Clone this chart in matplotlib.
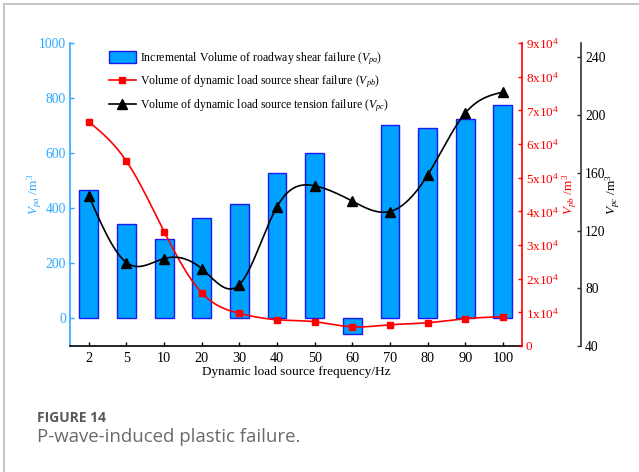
import numpy as np
import matplotlib
matplotlib.use('Agg')
import matplotlib.pyplot as plt
from matplotlib.ticker import FixedLocator, FuncFormatter
from matplotlib.patches import Patch
from matplotlib.lines import Line2D

# ---------------- data ----------------
freq_labels = ['2', '5', '10', '20', '30', '40', '50', '60', '70', '80', '90', '100']
v_pa = [465, 344, 289, 363, 417, 527, 600, -57, 702, 691, 723, 775]          # m^3 (bars, left axis)
v_pb = [6.66e4, 5.49e4, 3.40e4, 1.58e4, 0.97e4, 0.78e4, 0.72e4, 0.57e4,
        0.63e4, 0.69e4, 0.81e4, 0.87e4]                                       # m^3 (red, right axis)
v_pc = [144, 97.8, 100.6, 93.6, 82.5, 136.6, 151, 140.4, 133.2, 158.4, 201.4, 216]  # m^3 (black, far right)

plt.rcParams['font.family'] = ['Liberation Serif', 'DejaVu Serif']
plt.rcParams['mathtext.fontset'] = 'custom'
plt.rcParams['mathtext.rm'] = 'Liberation Serif'
plt.rcParams['mathtext.it'] = 'Liberation Serif:italic'
plt.rcParams['mathtext.bf'] = 'Liberation Serif:bold'

BLUE_AX = '#2AA8FF'
BAR_FILL = '#00A2FF'
BAR_EDGE = '#1A1AEE'
RED = '#FF0000'
DARK = '#333333'


def natural_spline(x, y, xs):
    x = np.asarray(x, float)
    y = np.asarray(y, float)
    n = len(x)
    h = np.diff(x)
    A = np.zeros((n, n))
    b = np.zeros(n)
    A[0, 0] = 1
    A[-1, -1] = 1
    for i in range(1, n - 1):
        A[i, i - 1] = h[i - 1]
        A[i, i] = 2 * (h[i - 1] + h[i])
        A[i, i + 1] = h[i]
        b[i] = 6 * ((y[i + 1] - y[i]) / h[i] - (y[i] - y[i - 1]) / h[i - 1])
    M = np.linalg.solve(A, b)
    out = np.empty_like(xs)
    for k, xv in enumerate(xs):
        i = min(max(np.searchsorted(x, xv) - 1, 0), n - 2)
        t1 = x[i + 1] - xv
        t0 = xv - x[i]
        out[k] = (M[i] * t1 ** 3 / (6 * h[i]) + M[i + 1] * t0 ** 3 / (6 * h[i])
                  + (y[i] / h[i] - M[i] * h[i] / 6) * t1
                  + (y[i + 1] / h[i] - M[i + 1] * h[i] / 6) * t0)
    return out


W, H = 639, 472
fig = plt.figure(figsize=(W / 100, H / 100), dpi=100)
L, R, T, B = 70, 521.7, 43, 346
ax1 = fig.add_axes([L / W, 1 - B / H, (R - L) / W, (B - T) / H])
ax2 = ax1.twinx()
ax3 = ax1.twinx()

pos = np.arange(len(freq_labels))
xs = np.linspace(0, len(freq_labels) - 1, 400)

# bars
ax1.bar(pos, v_pa, width=0.5, color=BAR_FILL, edgecolor=BAR_EDGE, linewidth=1.0, zorder=2)
ax1.set_xlim(-0.5, len(freq_labels) - 0.5)
ax1.set_ylim(-100, 1000)
ax1.yaxis.set_major_locator(FixedLocator([0, 200, 400, 600, 800, 1000]))
ax1.set_xticks(pos)
ax1.set_xticklabels(freq_labels)

# red
ax2.plot(xs, natural_spline(pos, v_pb, xs), color=RED, lw=1.2, zorder=3)
ax2.plot(pos, v_pb, linestyle='none', marker='s', ms=4.3, color=RED, zorder=4)
ax2.set_ylim(0, 90000)
ax2.yaxis.set_major_locator(FixedLocator(np.arange(0, 90001, 10000)))
ax2.yaxis.set_major_formatter(FuncFormatter(
    lambda v, p: '0' if v == 0 else r'$%d\mathrm{x}10^{4}$' % round(v / 1e4)))

# black
ax3.plot(xs, natural_spline(pos, v_pc, xs), color='black', lw=1.2, zorder=3)
ax3.plot(pos, v_pc, linestyle='none', marker='^', ms=7.5, color='black', zorder=4)
ax3.set_ylim(40, 250)
ax3.yaxis.set_major_locator(FixedLocator([40, 80, 120, 160, 200, 240]))
ax3.spines['right'].set_position(('axes', (581 - L) / (R - L)))

# spines
for a in (ax1, ax2, ax3):
    a.spines['top'].set_visible(False)
ax1.spines['right'].set_visible(False)
ax2.spines['left'].set_visible(False)
ax3.spines['left'].set_visible(False)
ax2.spines['bottom'].set_visible(False)
ax3.spines['bottom'].set_visible(False)
ax1.spines['left'].set_color(BLUE_AX)
ax1.spines['left'].set_linewidth(1.2)
ax1.spines['bottom'].set_color('black')
ax1.spines['bottom'].set_linewidth(1.2)
ax2.spines['right'].set_color(RED)
ax2.spines['right'].set_linewidth(1.2)
ax3.spines['right'].set_color(DARK)
ax3.spines['right'].set_linewidth(1.2)

fs = 9.8
ax1.tick_params(axis='y', direction='in', length=3, width=1, color=BLUE_AX, labelcolor=BLUE_AX,
                labelsize=fs, pad=3)
ax1.tick_params(axis='x', direction='in', length=3, width=1, color='black', labelsize=10.3, pad=4)
ax2.tick_params(axis='y', direction='in', length=3, width=1, color=RED, labelcolor=RED,
                labelsize=9.5, pad=3)
ax3.tick_params(axis='y', direction='in', length=3, width=1, color=DARK, labelcolor='black',
                labelsize=fs, pad=3)

ax1.set_xlabel('Dynamic load source frequency/Hz', fontsize=9.5, labelpad=1)
ax1.set_ylabel(r'$V_{pa}$ /m$^{3}$', fontsize=9.5, color=BLUE_AX)
ax1.yaxis.set_label_coords((44 - L) / (R - L), 0.5)
ax2.set_ylabel(r'$V_{pb}$ /m$^{3}$', fontsize=9.5, color=RED)
ax2.yaxis.set_label_coords((561 - L) / (R - L), 0.5)
ax3.set_ylabel(r'$V_{pc}$ /m$^{3}$', fontsize=9.5, color='black')
ax3.yaxis.set_label_coords((604 - L) / (R - L), 0.5)

# legend
handles = [
    Patch(facecolor=BAR_FILL, edgecolor=BAR_EDGE, linewidth=1.0),
    Line2D([], [], color=RED, lw=1.2, marker='s', ms=4.3),
    Line2D([], [], color='black', lw=1.2, marker='^', ms=6.5),
]
labels = [
    r'Incremental Volume of roadway shear failure ($V_{pa}$)',
    r'Volume of dynamic load source shear failure ($V_{pb}$)',
    r'Volume of dynamic load source tension failure ($V_{pc}$)',
]
ax3.legend(handles, labels, loc='upper left', bbox_to_anchor=(109 / W, 1 - 50 / H),
           bbox_transform=fig.transFigure, frameon=False, fontsize=8.5, borderpad=0,
           borderaxespad=0, handlelength=2.25, handleheight=1.1, handletextpad=0.35,
           labelspacing=0.6)

# page frame + caption
fig.add_artist(Line2D([4 / W, 4 / W], [0, 1 - 4 / H], transform=fig.transFigure,
                      color='#BBBBBB', lw=1.2))
fig.add_artist(Line2D([4 / W, 1], [1 - 4 / H, 1 - 4 / H], transform=fig.transFigure,
                      color='#BBBBBB', lw=1.2))
fig.text(37 / W, 1 - 422.5 / H, 'FIGURE 14', fontfamily='Open Sans', fontweight='bold',
         fontsize=10, color='#595959', va='baseline', ha='left')
fig.text(37 / W, 1 - 442 / H, 'P-wave-induced plastic failure.', fontfamily='Open Sans',
         fontsize=13.4, color='#6A6A6A', va='baseline', ha='left')

fig.savefig('out.png', dpi=100)
